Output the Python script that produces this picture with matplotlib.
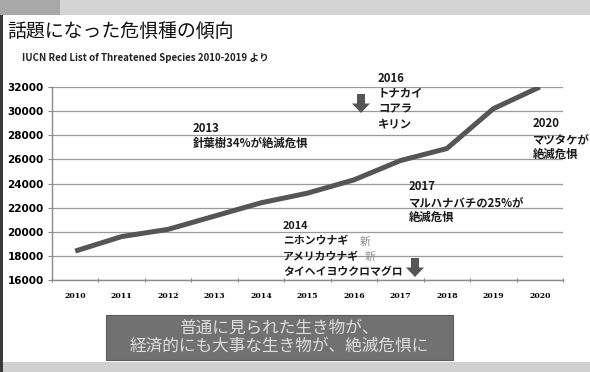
import matplotlib
matplotlib.use("Agg")
import matplotlib.pyplot as plt
from matplotlib.patches import Rectangle, FancyArrow

plt.rcParams['font.family'] = ['Noto Sans CJK JP', 'DejaVu Sans']

# Threatened species counts by year (IUCN Red List)
years = ["2010", "2011", "2012", "2013", "2014", "2015",
         "2016", "2017", "2018", "2019", "2020"]
species_counts = [18400, 19600, 20200, 21300, 22400, 23200,
                  24300, 25900, 26900, 30200, 32000]
y_ticks = [16000, 18000, 20000, 22000, 24000, 26000, 28000, 30000, 32000]

title_text = "話題になった危惧種の傾向"
subtitle_text = "IUCN Red List of Threatened Species 2010-2019 より"
note_2013 = ["2013", "針葉樹34%が絶滅危惧"]
note_2016 = ["2016", "トナカイ", "コアラ", "キリン"]
note_2020 = ["2020", "マツタケが", "絶滅危惧"]
note_2017 = ["2017", "マルハナバチの25%が", "絶滅危惧"]
note_2014 = ["2014", "ニホンウナギ", "アメリカウナギ", "タイヘイヨウクロマグロ"]
new_mark = "新"
summary_lines = ["普通に見られた生き物が、", "経済的にも大事な生き物が、絶滅危惧に"]

W, H = 590, 372
fig = plt.figure(figsize=(W / 100, H / 100), dpi=100)
fig.patch.set_facecolor("white")


def fx(x):
    return x / W


def fy(y):
    return 1 - y / H


# slide frame: top band, bottom band, left edge
fig.patches.append(Rectangle((0, fy(15)), 1, 15 / H, transform=fig.transFigure,
                             facecolor="#d4d4d4", edgecolor="none", zorder=0))
fig.patches.append(Rectangle((0, fy(15)), fx(60), 15 / H, transform=fig.transFigure,
                             facecolor="#a8a8a8", edgecolor="none", zorder=0))
fig.patches.append(Rectangle((0, 0), 1, 10 / H, transform=fig.transFigure,
                             facecolor="#d0d0d0", edgecolor="none", zorder=0))
fig.patches.append(Rectangle((0, 0), fx(3), fy(15), transform=fig.transFigure,
                             facecolor="#3a3a3a", edgecolor="none", zorder=0))

# plot area
ax_left, ax_right, ax_top, ax_bottom = 52, 563, 87, 280
ax = fig.add_axes([fx(ax_left), fy(ax_bottom), fx(ax_right - ax_left),
                   (ax_bottom - ax_top) / H])
ax.set_facecolor("none")
x = list(range(len(years)))
ax.plot(x, species_counts, color="#555555", lw=3.6, solid_capstyle="butt",
        zorder=3, clip_on=True)
ax.set_xlim(-0.5, len(years) - 0.5)
ax.set_ylim(16000, 32000)
ax.set_yticks(y_ticks)
ax.set_yticklabels([str(v) for v in y_ticks], fontsize=7.5, fontweight="bold",
                   family="DejaVu Sans")
ax.set_xticks(x)
ax.set_xticklabels(years, fontsize=5.6, fontweight="bold", family="DejaVu Serif")
ax.set_xticks([i - 0.5 for i in range(len(years) + 1)], minor=True)
ax.tick_params(axis="x", which="major", length=0, pad=9)
ax.tick_params(axis="x", which="minor", length=3, direction="inout",
               color="#888888", width=0.8)
ax.tick_params(axis="y", length=3, color="#888888", width=0.8, pad=3)
ax.grid(axis="y", color="#9a9a9a", lw=0.9, zorder=1)
for side in ["top", "right"]:
    ax.spines[side].set_visible(False)
for side in ["left", "bottom"]:
    ax.spines[side].set_color("#8a8a8a")
    ax.spines[side].set_linewidth(1.0)

# title and subtitle
fig.text(fx(7), fy(31), title_text, fontsize=13.6, va="center", ha="left",
         color="#111111")
fig.text(fx(22), fy(58), subtitle_text, fontsize=7.0, fontweight="bold",
         va="center", ha="left", color="#222222")


def note(lines, x0, y0, step=15.3, size=8.2):
    for i, s in enumerate(lines):
        fig.text(fx(x0), fy(y0 + i * step), s, fontsize=size, fontweight="bold",
                 va="center", ha="left", color="#1a1a1a",
                 family=["Noto Sans CJK JP", "DejaVu Sans"])


note(note_2013, 193, 128)
note(note_2016, 378, 78, step=15.2)
note(note_2020, 533, 124)
note(note_2017, 409, 187)
note(note_2014, 283, 226, size=7.8)
fig.text(fx(360), fy(241.5), new_mark, fontsize=7.8, color="#8a8a8a",
         va="center", ha="left")
fig.text(fx(365), fy(256.5), new_mark, fontsize=7.8, color="#8a8a8a",
         va="center", ha="left")


def down_arrow(cx, ytop, ybot):
    length = (ybot - ytop) / H
    fig.patches.append(FancyArrow(fx(cx), fy(ytop), 0, -length,
                                  width=fx(8), head_width=fx(18),
                                  head_length=length * 0.5,
                                  length_includes_head=True,
                                  transform=fig.transFigure,
                                  facecolor="#555555", edgecolor="none",
                                  zorder=5))


down_arrow(361, 94, 113)
down_arrow(415, 258, 277)

# summary box
fig.patches.append(Rectangle((fx(106), fy(360)), fx(453 - 106), (360 - 315) / H,
                             transform=fig.transFigure, facecolor="#717171",
                             edgecolor="#5a5a5a", lw=0.8, zorder=2))
fig.text(fx(279), fy(328), summary_lines[0], fontsize=12.0, color="#dcdcdc",
         va="center", ha="center", zorder=3)
fig.text(fx(279), fy(346.5), summary_lines[1], fontsize=12.0, color="#dcdcdc",
         va="center", ha="center", zorder=3)

fig.savefig("out.png", dpi=100, facecolor=fig.get_facecolor())
